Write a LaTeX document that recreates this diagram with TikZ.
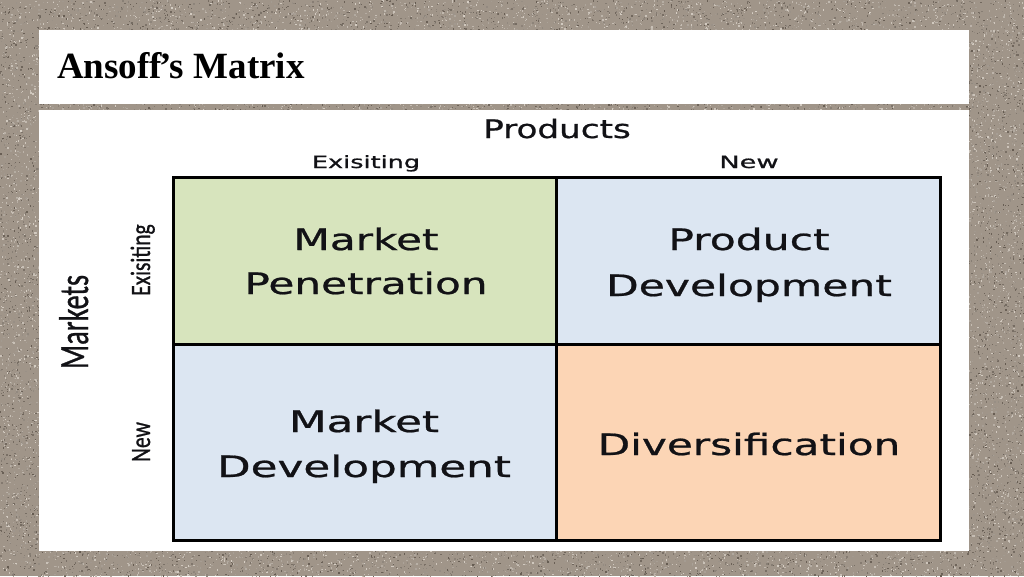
\documentclass[tikz,border=0pt]{standalone}
\usepackage{fontspec}
\usepackage{graphicx}
\setmainfont{Liberation Serif}
\newfontfamily\dvfont{DejaVu Sans}[FakeBold=0.7]
\newfontfamily\clfont{Carlito}[FakeBold=0.9]
\definecolor{granite}{RGB}{160,149,137}
\definecolor{gLight}{RGB}{215,207,197}
\definecolor{gDark}{RGB}{100,90,80}
\definecolor{cgreen}{RGB}{215,228,189}
\definecolor{cblue}{RGB}{220,230,242}
\definecolor{corange}{RGB}{252,213,181}
\definecolor{ink}{RGB}{18,18,22}
\tikzset{
  celltext/.style={anchor=base, inner sep=0pt, text=ink, font=\dvfont\fontsize{29.5}{30}\selectfont},
  toplabel/.style={anchor=base, inner sep=0pt, text=ink, font=\dvfont\fontsize{17}{18}\selectfont},
  sidelabel/.style={anchor=base, inner sep=0pt, text=ink, rotate=90, font=\clfont\fontsize{21.5}{22}\selectfont},
  gridline/.style={line width=3pt, black},
}
\newcommand{\sxs}[2]{\scalebox{#1}[1]{#2}}
\newcommand{\sys}[2]{\scalebox{1}[#1]{#2}}
\begin{document}
\begin{tikzpicture}[x=1pt,y=-1pt]
\useasboundingbox (0,0) rectangle (1024,576);
\fill[granite] (0,0) rectangle (1024,576);
\pgfmathsetseed{7}
% granite speckle in the visible border strips: x0/y0/width/height/count
\foreach \rx/\ry/\rw/\rh/\rn in {0/0/1024/31/2600, 0/550/1024/26/2200, 0/30/40/521/1800, 968/30/56/521/2500, 39/103/930/8/650} {
  \foreach \i in {1,...,\rn} {
    \pgfmathsetmacro\px{\rx+rnd*\rw}
    \pgfmathsetmacro\py{\ry+rnd*\rh}
    \pgfmathsetmacro\cc{rnd*100}
    \fill[gDark!\cc!gLight] (\px,\py) rectangle ++(1.3,1.3);
  }
}
% panels
\fill[white] (39,30) rectangle (969,104);
\fill[white] (39,110) rectangle (969,551);
\node[anchor=base west, inner sep=0pt, font=\bfseries\fontsize{37}{38}\selectfont] (title) at (57,78) {Ansoff\kern-3pt’s Matrix};

% matrix coordinates
\coordinate (tl) at (173,177);
\coordinate (tm) at (556,177);
\coordinate (tr) at (940,177);
\coordinate (ml) at (173,344);
\coordinate (mm) at (556,344);
\coordinate (mr) at (940,344);
\coordinate (bl) at (173,540);
\coordinate (bm) at (556,540);
\coordinate (br) at (940,540);
\fill[cgreen] (tl) rectangle (mm);
\fill[cblue] (tm) rectangle (mr);
\fill[cblue] (ml) rectangle (bm);
\fill[corange] (mm) rectangle (br);
\draw[gridline] (tl) rectangle (br);
\draw[gridline] (tm) -- (bm);
\draw[gridline] (ml) -- (mr);

% headings
\node[anchor=base, inner sep=0pt, text=ink, font=\dvfont\fontsize{25.5}{26}\selectfont] (products) at (557,138) {\sxs{1.34}{Products}};
\node[toplabel] (pexist) at (366,168) {\sxs{1.5}{Exisiting}};
\node[toplabel] (pnew) at (749,168) {\sxs{1.6}{New}};

\node[sidelabel, font=\clfont\fontsize{28.3}{29}\selectfont] (markets) at (88,322) {\sys{1.47}{Markets}};
\node[sidelabel] (mexist) at (150,260) {\sys{1.3}{Exisiting}};
\node[sidelabel] (mnew) at (150,442) {\sys{1.3}{New}};

% cell texts
\node[celltext] (mp1) at (366,250) {\sxs{1.43}{Market}};
\node[celltext] (mp2) at (366,294) {\sxs{1.43}{Penetration}};
\node[celltext] (pd1) at (749,250) {\sxs{1.44}{Product}};
\node[celltext] (pd2) at (749,296) {\sxs{1.44}{Development}};
\node[celltext] (md1) at (364,432) {\sxs{1.48}{Market}};
\node[celltext] (md2) at (364,477) {\sxs{1.48}{Development}};
\node[celltext] (dv) at (749,455) {\sxs{1.43}{Diversification}};
\end{tikzpicture}
\end{document}
